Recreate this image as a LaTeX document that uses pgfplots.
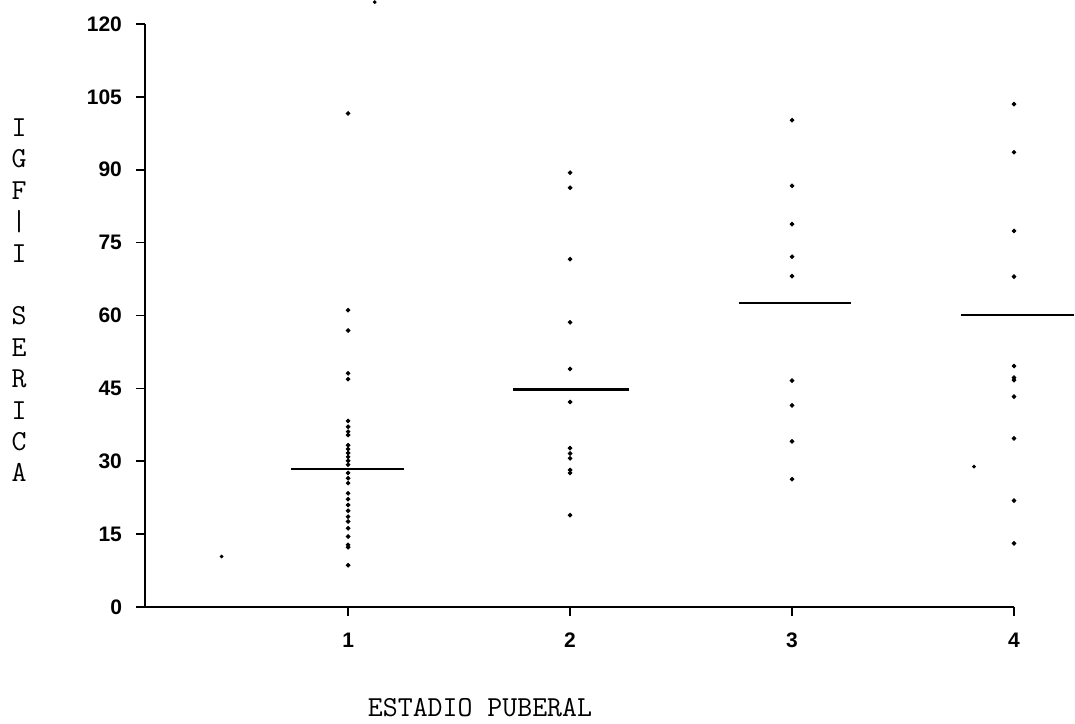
\documentclass[border=0pt]{standalone}
\usepackage{fontspec}
\usepackage{pgfplots}
\pgfplotsset{compat=1.18}
\newfontfamily\tickfont{Liberation Sans}
\newcommand\labfont{\ttfamily}
\begin{document}
\begin{tikzpicture}
\begin{axis}[
  at={(0,0)}, anchor=south west,
  scale only axis, width=434.5pt, height=291.5pt,
  xmin=0.085, xmax=4, ymin=0, ymax=120,
  axis x line=bottom, axis y line=left,
  axis line style={-, line width=0.9pt, black},
  xtick={1,2,3,4}, ytick={0,15,...,120},
  tick align=outside, major tick length=4.5pt,
  tick style={line width=0.8pt, black},
  /pgf/number format/assume math mode=true,
  ticklabel style={font=\tickfont\bfseries\fontsize{10.5}{12}\selectfont},
  yticklabel style={xshift=-3.5pt},
  xticklabel style={yshift=-5pt},
  clip=false,
  xlabel={ESTADIO PUBERAL},
  every axis x label/.style={at={(axis description cs:0.3855,-0.173)}, anchor=center,
     font=\labfont\fontsize{14.5}{15.7}\selectfont},
  ylabel={I\\G\\F\\|\\I\\\mbox{}\\S\\E\\R\\I\\C\\A},
  every axis y label/.style={at={(axis description cs:-0.145,0.526)}, anchor=center,
     align=center, font=\labfont\fontsize{14.5}{15.7}\selectfont},
]
% group 1
\addplot[only marks, mark=*, mark size=0.95pt, black] coordinates {
(1,101.6) (1,61.1) (1,56.9) (1,48.1) (1,46.9) (1,38.3) (1,37.1) (1,36.1) (1,35.4)
(1,33.3) (1,32.5) (1,31.7) (1,30.9) (1,30.1) (1,29.3) (1,27.6) (1,26.5) (1,25.5)
(1,23.4) (1,22.2) (1,21.0) (1,19.8) (1,18.6) (1,17.6) (1,16.2) (1,14.5) (1,12.8) (1,12.3) (1,8.6)
};
% group 2
\addplot[only marks, mark=*, mark size=0.95pt, black] coordinates {
(2,89.4) (2,86.3) (2,71.6) (2,58.6) (2,49.0) (2,42.2) (2,32.7) (2,31.6) (2,30.6) (2,28.2) (2,27.6) (2,18.9)
};
% group 3
\addplot[only marks, mark=*, mark size=0.95pt, black] coordinates {
(3,100.2) (3,86.7) (3,78.8) (3,72.1) (3,68.1) (3,46.6) (3,41.5) (3,34.1) (3,26.3)
};
% group 4
\addplot[only marks, mark=*, mark size=0.95pt, black] coordinates {
(4,103.5) (4,93.6) (4,77.4) (4,68.0) (4,49.6) (4,47.2) (4,46.7) (4,43.3) (4,34.7) (4,21.9) (4,13.1)
};
% stray points
\addplot[only marks, mark=*, mark size=0.7pt, black] coordinates {
(0.43,10.4) (3.82,28.9) (1.12,124.5)
};
% mean lines
\addplot[line width=1.2pt, black] coordinates {(0.745,28.4) (1.25,28.4)};
\addplot[line width=1.2pt, black] coordinates {(1.745,44.8) (2.265,44.8)};
\addplot[line width=1.2pt, black] coordinates {(2.76,62.6) (3.265,62.6)};
\addplot[line width=1.2pt, black] coordinates {(3.76,60.1) (4.27,60.1)};
\end{axis}
\pgfresetboundingbox
\useasboundingbox (-72.5pt,-58pt) rectangle (465pt,303.5pt);
\end{tikzpicture}
\end{document}
